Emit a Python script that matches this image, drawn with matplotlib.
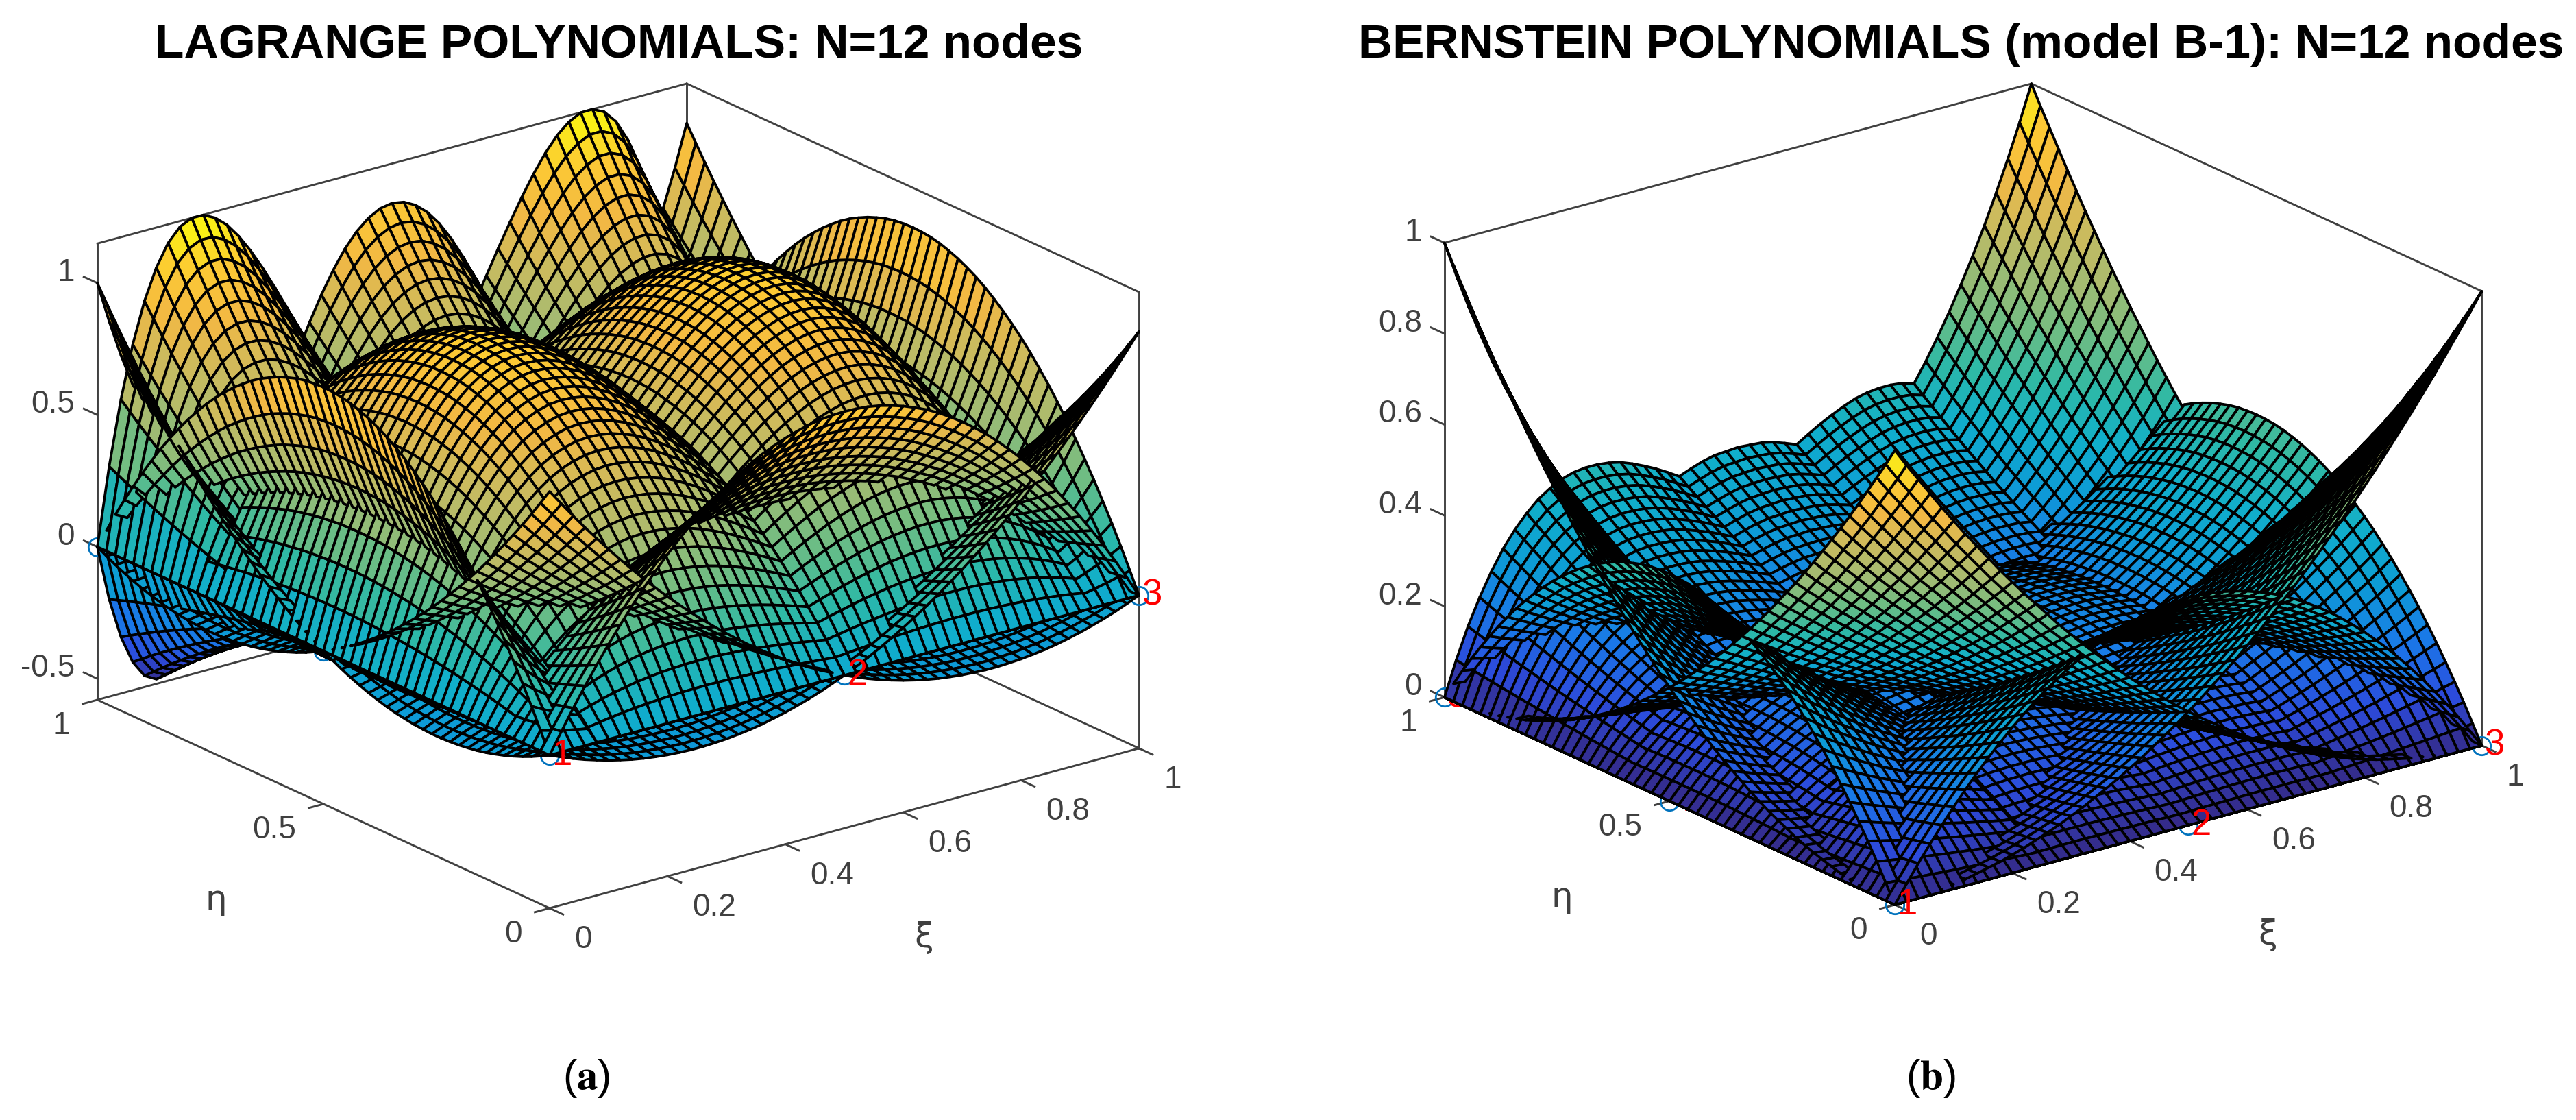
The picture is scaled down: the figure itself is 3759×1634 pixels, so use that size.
import numpy as np
import matplotlib
matplotlib.use('Agg')
import matplotlib.pyplot as plt
from matplotlib.colors import LinearSegmentedColormap
from mpl_toolkits.mplot3d import proj3d
from mpl_toolkits.mplot3d.art3d import Poly3DCollection

plt.rcParams['font.family'] = ['Liberation Sans', 'DejaVu Sans']
plt.rcParams['mathtext.fontset'] = 'stix'

# one height per mesh line (51 lines across the element), estimated to fit
# the arch outlines along the element edges in the picture
mesh_lines = np.arange(51) / 50

# panel (a): height profiles
lag_quad_end = [1, .941, .883, .827, .773, .72, .669, .619, .571, .525, .48, .437, .395, .355, .317, .28, .245, .211, .179, .149, .12, .093, .067, .043, .021, 0,
                -.019, -.037, -.053, -.067, -.08, -.091, -.101, -.109, -.115, -.12, -.123, -.125, -.125, -.123, -.12, -.115, -.109, -.101, -.091, -.08, -.067, -.053, -.037, -.019, 0]
lag_quad_mid = [0, .078, .154, .226, .294, .36, .422, .482, .538, .59, .64, .686, .73, .77, .806, .84, .87, .898, .922, .942, .96, .974, .986, .994, .998, 1,
                .998, .994, .986, .974, .96, .942, .922, .898, .87, .84, .806, .77, .73, .686, .64, .59, .538, .482, .422, .36, .294, .226, .154, .078, 0]
lag_top_end = [1, .843, .702, .578, .469, .374, .292, .222, .162, .112, .07, .037, .011, -.009, -.024, -.034, -.039, -.042, -.041, -.038, -.034, -.028, -.021, -.014, -.007, 0,
               .006, .012, .017, .02, .022, .023, .023, .021, .019, .014, .009, .003, -.003, -.01, -.018, -.025, -.031, -.036, -.04, -.042, -.041, -.037, -.029, -.017, 0]
lag_top_side = [0, .293, .535, .731, .884, .998, 1.079, 1.128, 1.15, 1.149, 1.126, 1.087, 1.032, .965, .889, .806, .719, .628, .537, .446, .358, .274, .196, .123, .058, 0,
                -.049, -.089, -.12, -.141, -.154, -.157, -.151, -.138, -.117, -.09, -.057, -.02, .02, .062, .102, .141, .176, .203, .223, .23, .224, .201, .158, .092, 0]
lag_top_mid = [0, -.211, -.366, -.473, -.537, -.562, -.554, -.517, -.457, -.377, -.282, -.175, -.06, .06, .182, .302, .419, .53, .633, .725, .806, .875, .929, .968, .992, 1,
               .992, .968, .929, .875, .806, .725, .633, .53, .419, .302, .182, .06, -.06, -.175, -.282, -.377, -.457, -.517, -.554, -.562, -.537, -.473, -.366, -.211, 0]
lag_inner = [0, .153, .291, .415, .526, .624, .71, .783, .846, .897, .939, .97, .992, 1.006, 1.011, 1.008, .998, .981, .959, .93, .896, .858, .815, .768, .719, .667,
             .612, .556, .499, .442, .384, .327, .27, .215, .163, .112, .065, .021, -.02, -.055, -.085, -.11, -.129, -.141, -.146, -.144, -.134, -.114, -.086, -.048, 0]

# panel (b): height profiles
ber_quad_end = [1, .96, .922, .884, .846, .81, .774, .74, .706, .672, .64, .608, .578, .548, .518, .49, .462, .436, .41, .384, .36, .336, .314, .292, .27, .25,
                .23, .212, .194, .176, .16, .144, .13, .116, .102, .09, .078, .068, .058, .048, .04, .032, .026, .02, .014, .01, .006, .004, .002, 0, 0]
ber_quad_mid = [0, .039, .077, .113, .147, .18, .211, .241, .269, .295, .32, .343, .365, .385, .403, .42, .435, .449, .461, .471, .48, .487, .493, .497, .499, .5,
                .499, .497, .493, .487, .48, .471, .461, .449, .435, .42, .403, .385, .365, .343, .32, .295, .269, .241, .211, .18, .147, .113, .077, .039, 0]
ber_top_end = [1, .922, .849, .781, .716, .656, .6, .547, .498, .452, .41, .37, .334, .3, .269, .24, .214, .19, .168, .148, .13, .113, .098, .085, .073, .063,
               .053, .045, .038, .031, .026, .021, .017, .013, .01, .008, .006, .005, .003, .002, .002, .001, .001, 0, 0, 0, 0, 0, 0, 0, 0]
ber_top_side = [0, .075, .142, .199, .249, .292, .327, .356, .38, .397, .41, .418, .421, .421, .418, .412, .402, .39, .377, .362, .346, .328, .31, .289, .271, .25,
                .231, .21, .19, .172, .154, .136, .12, .103, .09, .076, .063, .053, .043, .034, .026, .02, .013, .01, .007, .004, .002, .001, 0, 0, 0]
ber_top_mid = [0, .002, .009, .019, .032, .049, .067, .087, .109, .131, .154, .176, .2, .222, .244, .265, .284, .302, .319, .333, .346, .356, .365, .371, .373, .375,
               .373, .371, .365, .356, .346, .333, .319, .302, .284, .265, .244, .222, .2, .176, .154, .131, .109, .087, .067, .049, .032, .019, .009, .002, 0]
ber_side_end = [1, .941, .885, .831, .779, .729, .681, .636, .593, .551, .512, .475, .439, .405, .373, .343, .314, .287, .262, .238, .216, .195, .176, .157, .141, .125,
                .111, .097, .085, .074, .064, .055, .047, .039, .033, .027, .022, .018, .014, .011, .008, .006, .004, .003, .002, .001, .001, 0, 0, 0, 0]
ber_inner = [0, .058, .111, .159, .203, .243, .279, .311, .339, .363, .384, .401, .416, .427, .435, .441, .444, .445, .443, .438, .432, .423, .414, .403, .389, .375,
             .359, .343, .326, .306, .288, .268, .25, .23, .208, .189, .168, .151, .132, .112, .096, .079, .066, .052, .037, .027, .017, .011, .006, .002, 0]

# nodes of the element, numbered row by row
node_xi = [0, .5, 1, 0, .25, .75, 1, 0, .25, .5, .75, 1]
node_eta = [0, 0, 0, .5, .5, .5, .5, 1, 1, 1, 1, 1]
node_names = ['1', '2', '3', '4', '5', '6', '7', '8', '9', '10', '11', '12']

xi_ticks = [0, .2, .4, .6, .8, 1]
xi_labels = ['0', '0.2', '0.4', '0.6', '0.8', '1']
eta_ticks = [0, .5, 1]
eta_labels = ['0', '0.5', '1']
z_ticks_a = [-.5, 0, .5, 1]
z_labels_a = ['-0.5', '0', '0.5', '1']
z_ticks_b = [0, .2, .4, .6, .8, 1]
z_labels_b = ['0', '0.2', '0.4', '0.6', '0.8', '1']

parula_colors = ['#352a87', '#2c4bdc', '#1a78e8', '#0d9bd6', '#10aecb', '#2fb9a5', '#6fbd83',
                 '#a3bb72', '#c9bb5f', '#f2b844', '#fcc934', '#f9fb0e']
parula = LinearSegmentedColormap.from_list('parula', parula_colors)

BOX = '#404040'
TEXT = '#404040'
W, H = 3759, 1634
fig = plt.figure(figsize=(W / 100, H / 100), dpi=100, facecolor='white')


def to_2d(ax, x, y, z):
    px, py, _ = proj3d.proj_transform(x, y, z, ax.get_proj())
    return (px, py)


def to_pixels(ax, x, y, z):
    dx, dy = ax.transData.transform(to_2d(ax, x, y, z))
    return dx, H - dy


def fit_box(ax, zlim, front, back):
    # move and scale the axes until the box corners land where they should
    for _ in range(3):
        ax.apply_aspect()
        f = to_pixels(ax, 0, 0, zlim[0])
        b = to_pixels(ax, 1, 1, zlim[1])
        scale = (front[1] - back[1]) / (f[1] - b[1])
        pos = ax.get_position()
        side = pos.width * W * scale
        cx = pos.x0 * W + pos.width * W / 2
        cy = H - (pos.y0 * H + pos.height * H / 2)
        cx = cx + (front[0] - (cx + (f[0] - cx) * scale))
        cy = cy + (front[1] - (cy + (f[1] - cy) * scale))
        ax.set_position([(cx - side / 2) / W, (H - cy - side / 2) / H, side / W, side / H])


def draw_panel(rect, profiles, zlim, z_ticks, z_labels, front, back):
    ax = fig.add_axes(rect, projection='3d', proj_type='ortho')
    ax.computed_zorder = False
    ax.set_axis_off()
    ax.patch.set_alpha(0)
    ax.set_xlim(0, 1)
    ax.set_ylim(0, 1)
    ax.set_zlim(*zlim)
    ax.view_init(elev=20.7, azim=-127.5)
    ax.set_box_aspect((1086, 1086, 713))
    fit_box(ax, zlim, front, back)

    z0, z1 = zlim
    # box lines behind the surface
    edges = [((0, 1), (0, 0), (z0, z0)), ((0, 0), (0, 1), (z0, z0)), ((1, 1), (0, 1), (z0, z0)), ((0, 1), (1, 1), (z0, z0)),
             ((0, 1), (1, 1), (z1, z1)), ((1, 1), (0, 1), (z1, z1)),
             ((0, 0), (1, 1), (z0, z1)), ((1, 1), (1, 1), (z0, z1)), ((1, 1), (0, 0), (z0, z1))]
    for ex, ey, ez in edges:
        ax.plot(ex, ey, ez, color=BOX, lw=2.1, zorder=1)

    # ticks
    for v, s in zip(xi_ticks, xi_labels):
        ax.plot([v, v], [0, -.03], [z0, z0], color=BOX, lw=2.1, zorder=1)
        ax.annotate(s, xy=to_2d(ax, v, 0, z0), xytext=(36, -46), textcoords='offset pixels', ha='left', va='center',
                    fontsize=33, color=TEXT, annotation_clip=False)
    for v, s in zip(eta_ticks, eta_labels):
        ax.plot([0, -.025], [v, v], [z0, z0], color=BOX, lw=2.1, zorder=1)
        ax.annotate(s, xy=to_2d(ax, 0, v, z0), xytext=(-40, -38), textcoords='offset pixels', ha='right', va='center',
                    fontsize=33, color=TEXT, annotation_clip=False)
    for v, s in zip(z_ticks, z_labels):
        ax.plot([0, 0], [1, 1.03], [v, v], color=BOX, lw=2.1, zorder=1)
        ax.annotate(s, xy=to_2d(ax, 0, 1, v), xytext=(-33, 15), textcoords='offset pixels', ha='right', va='center',
                    fontsize=33, color=TEXT, annotation_clip=False)
    ax.annotate('ξ', xy=to_2d(ax, .5, 0, z0), xytext=(116, -160), textcoords='offset pixels', ha='center', va='center',
                fontsize=36, color=TEXT, annotation_clip=False, family=['DejaVu Sans'])
    ax.annotate('η', xy=to_2d(ax, 0, .5, z0), xytext=(-157, -140), textcoords='offset pixels', ha='center', va='center',
                fontsize=36, color=TEXT, annotation_clip=False, family=['DejaVu Sans'])

    # nodes sit under the surface, only parts of them show through
    ax.plot(node_xi, node_eta, [0] * len(node_xi), 'o', ms=19, mfc='none', mec='#0072bd', mew=2, zorder=1.5)
    for nx, ny, name in zip(node_xi, node_eta, node_names):
        top = name in ('1', '2', '3')
        ax.annotate(name, xy=to_2d(ax, nx, ny, 0), xytext=(4, 0), textcoords='offset pixels', ha='left', va='center',
                    fontsize=38, color='red', annotation_clip=False, zorder=5 if top else 1.6)

    # every cell of every surface goes in one collection so they sort together
    verts = []
    heights = []
    n = len(mesh_lines) - 1
    xx, yy = np.meshgrid(mesh_lines, mesh_lines)
    for row_x, row_y in profiles:
        zz = np.outer(row_y, row_x)
        for i in range(n):
            for j in range(n):
                verts.append([(xx[i, j], yy[i, j], zz[i, j]), (xx[i, j + 1], yy[i, j + 1], zz[i, j + 1]),
                              (xx[i + 1, j + 1], yy[i + 1, j + 1], zz[i + 1, j + 1]), (xx[i + 1, j], yy[i + 1, j], zz[i + 1, j])])
                heights.append((zz[i, j] + zz[i, j + 1] + zz[i + 1, j + 1] + zz[i + 1, j]) / 4)
    heights = np.array(heights)
    faces = parula((heights - z0) / (z1 - z0))
    mesh = Poly3DCollection(verts, facecolors=faces, edgecolors='black', linewidths=2.7, zorder=2)
    ax.add_collection3d(mesh)
    return ax


lag_surfaces = [
    (np.array(lag_quad_end), np.array(lag_quad_end)),
    (np.array(lag_quad_mid), np.array(lag_quad_end)),
    (np.array(lag_quad_end)[::-1], np.array(lag_quad_end)),
    (np.array(lag_top_end), np.array(lag_quad_end)[::-1]),
    (np.array(lag_top_side), np.array(lag_quad_end)[::-1]),
    (np.array(lag_top_mid), np.array(lag_quad_end)[::-1]),
    (np.array(lag_top_side)[::-1], np.array(lag_quad_end)[::-1]),
    (np.array(lag_top_end)[::-1], np.array(lag_quad_end)[::-1]),
    (np.array(lag_top_end), np.array(lag_quad_mid)),
    (np.array(lag_top_end)[::-1], np.array(lag_quad_mid)),
    (np.array(lag_inner), np.array(lag_quad_mid)),
    (np.array(lag_inner)[::-1], np.array(lag_quad_mid)),
]
ber_surfaces = [
    (np.array(ber_quad_end), np.array(ber_quad_end)),
    (np.array(ber_quad_mid), np.array(ber_quad_end)),
    (np.array(ber_quad_end)[::-1], np.array(ber_quad_end)),
    (np.array(ber_top_end), np.array(ber_quad_end)[::-1]),
    (np.array(ber_top_side), np.array(ber_quad_end)[::-1]),
    (np.array(ber_top_mid), np.array(ber_quad_end)[::-1]),
    (np.array(ber_top_side)[::-1], np.array(ber_quad_end)[::-1]),
    (np.array(ber_top_end)[::-1], np.array(ber_quad_end)[::-1]),
    (np.array(ber_side_end), np.array(ber_quad_mid)),
    (np.array(ber_side_end)[::-1], np.array(ber_quad_mid)),
    (np.array(ber_inner), np.array(ber_quad_mid)),
    (np.array(ber_inner)[::-1], np.array(ber_quad_mid)),
]

draw_panel([.02, .02, .45, .9], lag_surfaces, (-.58, 1.15), z_ticks_a, z_labels_a, (802, 1325), (1003, 122))
draw_panel([.52, .02, .45, .9], ber_surfaces, (0, 1), z_ticks_b, z_labels_b, (2765, 1320), (2966, 122))

fig.text(903 / W, 1 - 66 / H, 'LAGRANGE POLYNOMIALS: N=12 nodes', ha='center', va='center', fontsize=50, fontweight='bold')
fig.text(2862 / W, 1 - 66 / H, 'BERNSTEIN POLYNOMIALS (model B-1): N=12 nodes', ha='center', va='center', fontsize=50, fontweight='bold')
fig.text(856 / W, 1 - 1573 / H, r'($\mathbf{a}$)', ha='center', va='center', fontsize=44)
fig.text(2817 / W, 1 - 1573 / H, r'($\mathbf{b}$)', ha='center', va='center', fontsize=44)

fig.savefig('out.png', dpi=100)
